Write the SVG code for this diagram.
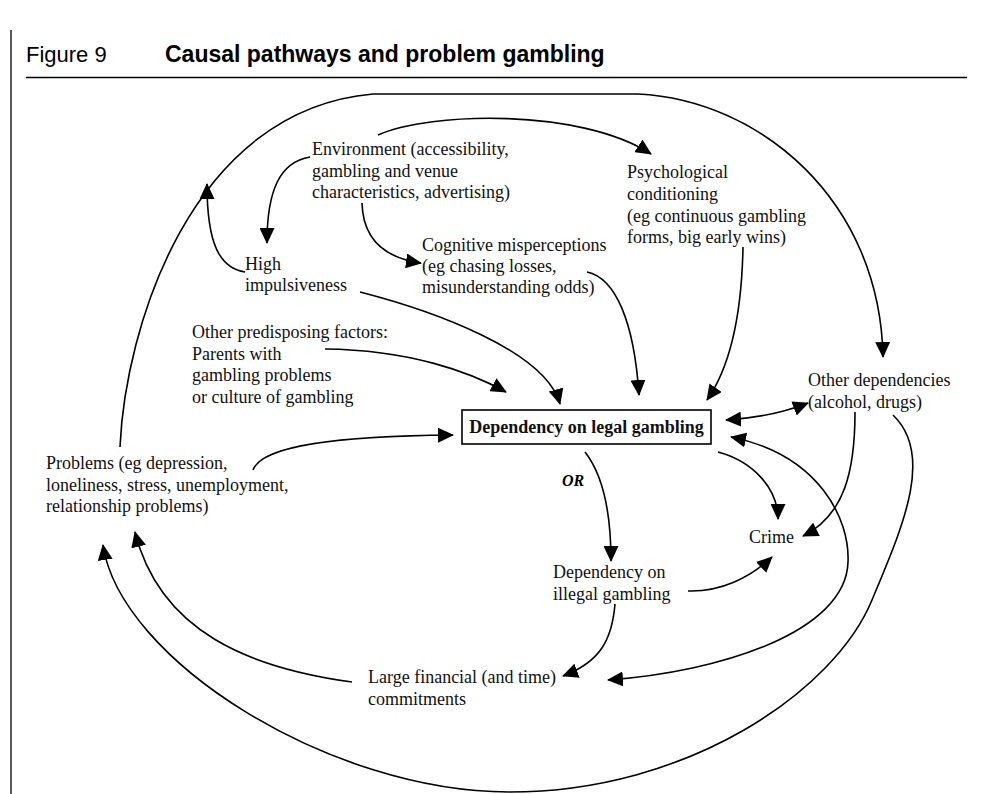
<svg xmlns="http://www.w3.org/2000/svg" width="998" height="794" viewBox="0 0 998 794">
  <defs>
    <marker id="ah" viewBox="0 0 16 15" refX="15" refY="7.5" markerWidth="16" markerHeight="15" markerUnits="userSpaceOnUse" orient="auto-start-reverse">
      <path d="M0,0 L16,7.5 L0,15 z" fill="#000"/>
    </marker>
    <style>
      .hdr { font-family: "Liberation Sans", Arial, sans-serif; font-size: 22px; fill: #000; }
      .hdrb { font-weight: bold; font-size: 23px; }
      .lbl { font-family: "Liberation Serif", "Times New Roman", serif; font-size: 18px; fill: #111; }
      .bold { font-weight: bold; }
      .or { font-family: "Liberation Serif", "Times New Roman", serif; font-size: 16px; font-weight: bold; font-style: italic; }
      .cn { fill: none; stroke: #000; stroke-width: 1.6; }
      .arr { marker-end: url(#ah); }
      .both { marker-start: url(#ah); marker-end: url(#ah); }
      .rule { stroke: #000; stroke-width: 1.3; }
    </style>
  </defs>

  <rect width="998" height="794" fill="#fff"/>

  <!-- page frame and heading -->
  <line class="rule" x1="11" y1="30" x2="11" y2="794" stroke-width="2"/>
  <text class="hdr" x="26" y="62">Figure 9</text>
  <text class="hdr hdrb" x="165" y="62">Causal pathways and problem gambling</text>
  <line class="rule" x1="26" y1="77.5" x2="967" y2="77.5"/>

  <!-- nodes -->
  <g id="environment" class="lbl">
    <text x="312" y="155">Environment (accessibility,</text>
    <text x="312" y="177">gambling and venue</text>
    <text x="312" y="198">characteristics, advertising)</text>
  </g>
  <g id="psychological" class="lbl">
    <text x="627" y="178">Psychological</text>
    <text x="627" y="200">conditioning</text>
    <text x="627" y="222">(eg continuous gambling</text>
    <text x="627" y="243">forms, big early wins)</text>
  </g>
  <g id="cognitive" class="lbl">
    <text x="422" y="251">Cognitive misperceptions</text>
    <text x="422" y="272">(eg chasing losses,</text>
    <text x="422" y="293">misunderstanding odds)</text>
  </g>
  <g id="impulsiveness" class="lbl">
    <text x="245" y="270">High</text>
    <text x="245" y="291">impulsiveness</text>
  </g>
  <g id="predisposing" class="lbl">
    <text x="192" y="338">Other predisposing factors:</text>
    <text x="192" y="360">Parents with</text>
    <text x="192" y="381">gambling problems</text>
    <text x="192" y="403">or culture of gambling</text>
  </g>
  <g id="legal">
    <rect x="462" y="410" width="249" height="34" fill="#fff" stroke="#000" stroke-width="1.6"/>
    <text class="lbl bold" x="586.5" y="433" text-anchor="middle">Dependency on legal gambling</text>
  </g>
  <g id="or-label">
    <text class="or" x="562" y="486">OR</text>
  </g>
  <g id="problems" class="lbl">
    <text x="46" y="469">Problems (eg depression,</text>
    <text x="46" y="491">loneliness, stress, unemployment,</text>
    <text x="46" y="512">relationship problems)</text>
  </g>
  <g id="other-dependencies" class="lbl">
    <text x="808" y="386">Other dependencies</text>
    <text x="808" y="408">(alcohol, drugs)</text>
  </g>
  <g id="crime" class="lbl">
    <text x="749" y="543">Crime</text>
  </g>
  <g id="illegal" class="lbl">
    <text x="553" y="578">Dependency on</text>
    <text x="553" y="600">illegal gambling</text>
  </g>
  <g id="financial" class="lbl">
    <text x="368" y="683">Large financial (and time)</text>
    <text x="368" y="705">commitments</text>
  </g>

  <!-- connectors -->
  <g id="connectors" class="cn">
    <!-- problems around the top to other dependencies -->
    <path class="arr" d="M120,447 C125,330 190,110 373,94 L638,94 C760,100 880,200 883,357"/>
    <!-- high impulsiveness feeding the outer loop -->
    <path class="arr" d="M245,272 C220,268 207,245 207,184"/>
    <!-- environment to high impulsiveness -->
    <path class="arr" d="M310,157 C280,162 267,190 267,243"/>
    <!-- environment to cognitive misperceptions -->
    <path class="arr" d="M362,203 C363,240 385,258 421,263"/>
    <!-- environment to psychological conditioning -->
    <path class="arr" d="M378,135 C430,112 580,108 651,154"/>
    <!-- into dependency on legal gambling -->
    <path class="arr" d="M743,247 C742,300 735,360 707,400"/>
    <path class="arr" d="M587,272 C615,278 634,320 639,395"/>
    <path class="arr" d="M360,292 C430,310 545,350 560,404"/>
    <path class="arr" d="M325,349 C410,350 470,372 506,392"/>
    <path class="arr" d="M253,470 C262,445 340,436 453,435"/>
    <!-- legal gambling and other dependencies -->
    <path class="both" d="M726,420 C760,418 785,412 808,403"/>
    <!-- legal gambling and large commitments -->
    <path class="both" d="M731,437 C820,455 850,520 848,562 C846,632 720,672 608,680"/>
    <!-- to crime -->
    <path class="arr" d="M718,452 C755,462 778,490 778,519"/>
    <path class="arr" d="M855,412 C855,470 845,515 803,536"/>
    <path class="arr" d="M688,591 C720,592 750,578 772,557"/>
    <!-- legal to illegal gambling -->
    <path class="arr" d="M585,452 C603,475 611,510 611,561"/>
    <!-- illegal gambling to commitments -->
    <path class="arr" d="M615,604 C612,640 600,662 563,676"/>
    <!-- commitments back to problems -->
    <path class="arr" d="M352,682 C250,668 160,632 135,532"/>
    <!-- other dependencies around the bottom to problems -->
    <path class="arr" d="M893,415 C935,455 902,528 872,600 C835,690 690,792 509,792 C330,792 120,660 103,545"/>
  </g>
</svg>
